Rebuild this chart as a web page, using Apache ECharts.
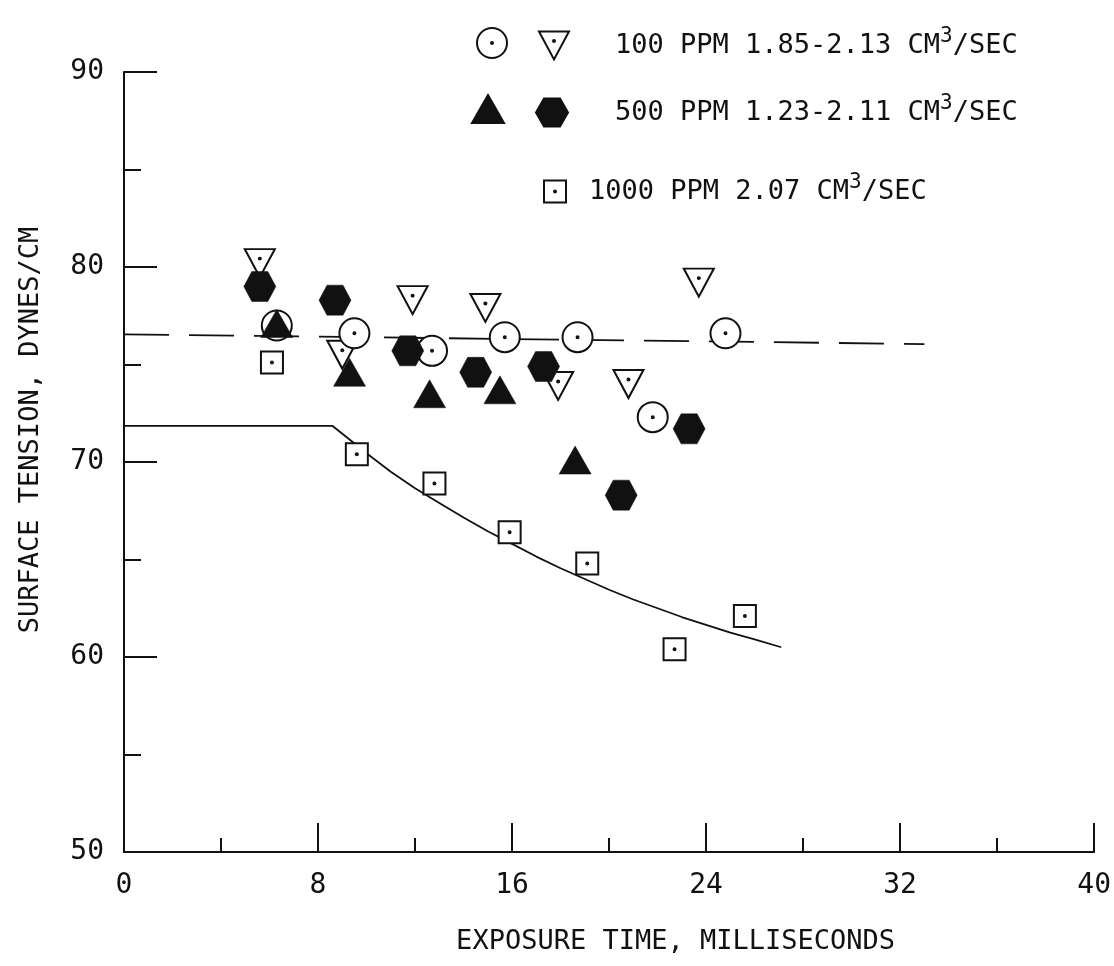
<!DOCTYPE html>
<html>
<head>
<meta charset="utf-8">
<script src="https://cdn.jsdelivr.net/npm/echarts@6/dist/echarts.min.js"></script>
<style>
  html, body { margin: 0; padding: 0; background: #fff; }
  #chart { width: 1114px; height: 966px; }
</style>
</head>
<body>
<div id="chart"></div>
<script>
////---------------- data ----------------////
const circle100   = [[6.3,77.0],[9.5,76.6],[12.7,75.7],[15.7,76.4],[18.7,76.4],[21.8,72.3],[24.8,76.6]];
const invTri100   = [[5.6,80.2],[9.0,75.5],[11.9,78.3],[14.9,77.9],[17.9,73.9],[20.8,74.0],[23.7,79.2]];
const triangle500 = [[6.3,77.1],[9.3,74.6],[12.6,73.5],[15.5,73.7],[18.6,70.1]];
const hexagon500  = [[5.6,79.0],[8.7,78.3],[11.7,75.7],[14.5,74.6],[17.3,74.9],[20.5,68.3],[23.3,71.7]];
const square1000  = [[6.1,75.1],[9.6,70.4],[12.8,68.9],[15.9,66.4],[19.1,64.8],[22.7,60.4],[25.6,62.1]];
const dashedFit   = [[0,76.55],[33,76.05]];
const solidFit    = [[0,71.85],[8.6,71.85],[9.3,71.15],[10,70.45],[11,69.5],[12,68.65],[13,67.9],[14,67.15],[15,66.45],[16,65.8],[17,65.15],[18,64.55],[19,64.0],[20,63.45],[21,62.95],[22,62.5],[23,62.05],[24,61.65],[25,61.25],[26,60.9],[27.1,60.5]];

const legendText100  = '100 PPM 1.85-2.13 CM{s|3}/SEC';
const legendText500  = '500 PPM 1.23-2.11 CM{s|3}/SEC';
const legendText1000 = '1000 PPM 2.07 CM{s|3}/SEC';
////-----------------------------------------------------------////
const ink  = '#111';
const font = "'DejaVu Sans Mono', monospace";

const sym_circle = 'path://M15,0A15,15,0,1,1,15,30A15,15,0,1,1,15,0ZM15,14A1,1,0,1,1,15,16A1,1,0,1,1,15,14Z';
const sym_invtri = 'path://M0,0L30,0L15,28ZM15,8.5A1,1,0,1,1,15,10.5A1,1,0,1,1,15,8.5Z';
const sym_square = 'path://M0,0L22,0L22,22L0,22ZM11,10A1,1,0,1,1,11,12A1,1,0,1,1,11,10Z';
const sym_hex    = 'path://M8,0L24,0L32,14L24,28L8,28L0,14Z';
const sym_tri    = 'path://M16,0L32,28L0,28Z';

const openStyle = { color: '#fff', borderColor: ink, borderWidth: 2, opacity: 1 };
const fillStyle = { color: ink, borderColor: ink, borderWidth: 0.5, opacity: 1 };

const legendTextStyle = {
    fontFamily: font, fontSize: 27, color: ink,
    rich: { s: { fontFamily: font, fontSize: 21, color: ink, padding: [0, 0, 18, 0] } }
};

function legend_item(name, left, top, w, h, text, gap) {
    return {
        data: [name], left: left, top: top, padding: 0,
        itemWidth: w, itemHeight: h, selectedMode: false,
        formatter: () => text,
        textStyle: Object.assign({}, legendTextStyle, { padding: [0, 0, 0, gap] })
    };
}

const option = {
    backgroundColor: '#fff',
    animation: false,
    grid: { left: 124, right: 13, top: 72, bottom: 114 },
    legend: [
        legend_item('c100', 476, 27, 30, 30, '', 0),
        legend_item('t100', 538, 26, 30, 28, legendText100, 41),
        legend_item('tr500', 471, 94, 32, 28, '', 0),
        legend_item('hx500', 535, 93, 32, 30, legendText500, 42),
        legend_item('sq1000', 543, 172, 22, 22, legendText1000, 18)
    ],
    xAxis: {
        type: 'value', min: 0, max: 40, interval: 8,
        name: 'EXPOSURE TIME, MILLISECONDS',
        nameLocation: 'middle', nameGap: 76,
        nameTextStyle: { fontFamily: font, fontSize: 27, color: ink, padding: [0, 0, 0, 133] },
        axisLine: { lineStyle: { color: ink, width: 2 } },
        axisTick: { inside: true, length: 29, lineStyle: { color: ink, width: 2 } },
        minorTick: { show: true, splitNumber: 2, length: 14, lineStyle: { color: ink, width: 2 } },
        axisLabel: { fontFamily: font, fontSize: 28, color: ink, margin: 20 },
        splitLine: { show: false }
    },
    yAxis: {
        type: 'value', min: 50, max: 90, interval: 10,
        name: 'SURFACE TENSION, DYNES/CM',
        nameLocation: 'middle', nameGap: 80, nameRotate: 90,
        nameTextStyle: { fontFamily: font, fontSize: 27, color: ink, padding: [0, 0, 0, 64] },
        axisLine: { lineStyle: { color: ink, width: 2 } },
        axisTick: { inside: true, length: 33, lineStyle: { color: ink, width: 2 } },
        minorTick: { show: true, splitNumber: 2, length: 17, lineStyle: { color: ink, width: 2 } },
        axisLabel: { fontFamily: font, fontSize: 28, color: ink, margin: 20 },
        splitLine: { show: false }
    },
    series: [
        {
            name: 'dashed', type: 'line', data: dashedFit, symbol: 'none', z: 1,
            lineStyle: { color: ink, width: 1.8, type: [45, 20] }
        },
        {
            name: 'solid', type: 'line', data: solidFit, symbol: 'none', z: 1,
            lineStyle: { color: ink, width: 1.8 }
        },
        { name: 'sq1000', type: 'scatter', data: square1000, symbol: sym_square, symbolSize: 22, itemStyle: openStyle, z: 2 },
        { name: 't100', type: 'scatter', data: invTri100, symbol: sym_invtri, symbolSize: [30, 28], itemStyle: openStyle, z: 2 },
        { name: 'c100', type: 'scatter', data: circle100, symbol: sym_circle, symbolSize: 30, itemStyle: openStyle, z: 2 },
        { name: 'hx500', type: 'scatter', data: hexagon500, symbol: sym_hex, symbolSize: [32, 30], itemStyle: fillStyle, z: 3 },
        { name: 'tr500', type: 'scatter', data: triangle500, symbol: sym_tri, symbolSize: [32, 28], itemStyle: fillStyle, z: 3 }
    ]
};

const chart = echarts.init(document.getElementById('chart'), null, { renderer: 'canvas' });
chart.setOption(option);
window.addEventListener('resize', chart.resize);
</script>
</body>
</html>
